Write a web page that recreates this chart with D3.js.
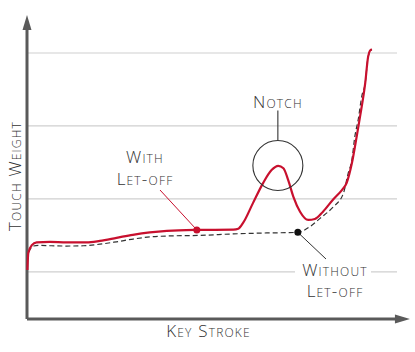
<!DOCTYPE html>
<html>
<head>
<meta charset="utf-8">
<script src="https://cdn.jsdelivr.net/npm/d3@7"></script>
<style>
    body { margin: 0; background: #fff; }
    text { font-family: "Open Sans", sans-serif; font-weight: 300; font-variant: small-caps; fill: #333; font-size: 17px; letter-spacing: 1.2px; }
</style>
</head>
<body>
<div id="container"></div>
<script>
const WIDTH = 415;
const HEIGHT = 352;
const AXIS_LEFT = 27;
const AXIS_BOTTOM = 319;

// key stroke (0-100) vs touch weight (0-100)
var WITH_X = [0.1, 0.35, 1.3, 2.6, 6.2, 10.7, 16.1, 19.7, 24.2, 28.6, 33.2, 37.8, 45.9, 55.8, 57.1,
    58.4, 61.1, 63.8, 66.1, 67.9, 69.3, 70.6, 72.0, 73.8, 76.0, 77.8, 80.0, 82.8, 85.1, 86.4,
    87.8, 89.1, 90.0, 91.4, 92.2, 92.7, 93.2];
var WITH_Y = [16.1, 21.7, 24.3, 25.2, 25.4, 25.2, 25.2, 25.7, 26.7, 27.7, 28.5, 29.0, 29.3, 29.4, 29.7,
    31.6, 38.2, 44.7, 49.0, 50.4, 49.6, 45.7, 40.2, 35.3, 32.6, 32.9, 35.3, 39.4, 42.4, 44.8,
    51.2, 60.0, 66.5, 77.5, 86.3, 88.3, 88.7];
var WITHOUT_X = [0.4, 1.7, 3.5, 6.2, 10.7, 15.2, 19.7, 24.2, 28.7, 33.2, 37.8, 46.8, 55.8, 64.8, 73.2,
    76.5, 79.2, 82.8, 85.5, 86.8, 87.8, 88.6, 89.5, 90.5, 91.4, 92.2, 93.2];
var WITHOUT_Y = [22.0, 24.0, 24.2, 24.1, 24.0, 24.1, 24.6, 25.4, 26.3, 27.0, 27.3, 27.5, 28.0, 28.3, 28.5,
    30.4, 33.1, 36.9, 41.3, 47.9, 52.3, 60.0, 65.5, 73.4, 77.5, 86.3, 88.7];
var GRID_VALUES = [15.5, 39.5, 63.5, 87.5];

var SVG;

var XScale = d3.scaleLinear().domain([0, 100]).range([AXIS_LEFT, 397]);
var YScale = d3.scaleLinear().domain([0, 100]).range([AXIS_BOTTOM, 15]);

var toPoints = function (xs, ys) {
    return xs.map(function (x, i) { return {x: x, y: ys[i]}; });
};

var line = d3.line()
    .x(function (d) { return XScale(d.x); })
    .y(function (d) { return YScale(d.y); })
    .curve(d3.curveMonotoneX);

var drawGrid = function (svg) {
    svg.append("g").selectAll("line").data(GRID_VALUES)
        .enter().append("line")
        .attr("x1", XScale(0)).attr("x2", XScale(100))
        .attr("y1", function (d) { return YScale(d); })
        .attr("y2", function (d) { return YScale(d); })
        .attr("stroke", "#cfcfcf")
        .attr("stroke-width", 1.2);
};

var drawAxes = function (svg) {
    var g = svg.append("g").attr("fill", "#5a5a5a").attr("stroke", "#5a5a5a");
    var tipY = YScale(100), tipX = XScale(103.5);
    g.append("path")
        .attr("d", "M" + AXIS_LEFT + "," + AXIS_BOTTOM + "V" + (tipY + 10) + "M" + AXIS_LEFT + "," + AXIS_BOTTOM + "H" + (tipX - 10))
        .attr("fill", "none")
        .attr("stroke-width", 3);
    g.append("path")
        .attr("d", "M" + AXIS_LEFT + "," + tipY + "L" + (AXIS_LEFT - 4.5) + "," + (tipY + 15) + "L" + (AXIS_LEFT + 4.5) + "," + (tipY + 15) + "Z")
        .attr("stroke", "none");
    g.append("path")
        .attr("d", "M" + tipX + "," + AXIS_BOTTOM + "L" + (tipX - 15) + "," + (AXIS_BOTTOM - 4.5) + "L" + (tipX - 15) + "," + (AXIS_BOTTOM + 4.5) + "Z")
        .attr("stroke", "none");
};

var drawCurves = function (svg) {
    svg.append("path")
        .datum(toPoints(WITHOUT_X, WITHOUT_Y))
        .attr("d", line)
        .attr("fill", "none")
        .attr("stroke", "#333")
        .attr("stroke-width", 1.2)
        .attr("stroke-dasharray", "5,3");
    svg.append("path")
        .datum(toPoints(WITH_X, WITH_Y))
        .attr("d", line)
        .attr("fill", "none")
        .attr("stroke", "#c8102e")
        .attr("stroke-width", 2.2);
};

// two-line label as one text element
var twoLines = function (g, x, y, gap, first, second) {
    var t = g.append("text").attr("text-anchor", "middle");
    t.append("tspan").attr("x", x).attr("y", y).text(first);
    t.append("tspan").attr("x", x).attr("dy", gap).text(second);
};

var drawNotes = function (svg) {
    var g = svg.append("g");
    // notch
    var cx = XScale(67.8), cy = YScale(50.5);
    g.append("circle").attr("cx", cx).attr("cy", cy).attr("r", 25)
        .attr("fill", "none").attr("stroke", "#333").attr("stroke-width", 1.1);
    g.append("line").attr("x1", cx).attr("x2", cx).attr("y1", cy - 25).attr("y2", cy - 55)
        .attr("stroke", "#333").attr("stroke-width", 1.1);
    g.append("text").attr("x", cx).attr("y", 108).attr("text-anchor", "middle").text("Notch");

    // with let-off
    var rx = XScale(WITH_X[12]), ry = YScale(WITH_Y[12]);
    g.append("line").attr("x1", 160).attr("y1", 190).attr("x2", rx).attr("y2", ry)
        .attr("stroke", "#c8102e").attr("stroke-width", 1);
    g.append("circle").attr("cx", rx).attr("cy", ry).attr("r", 3.5).attr("fill", "#c8102e");
    twoLines(g, 145, 163, 22, "With", "Let-off");

    // without let-off
    var bx = XScale(WITHOUT_X[14]), by = YScale(WITHOUT_Y[14]);
    g.append("line").attr("x1", bx).attr("y1", by).attr("x2", 326).attr("y2", 259)
        .attr("stroke", "#333").attr("stroke-width", 1);
    g.append("circle").attr("cx", bx).attr("cy", by).attr("r", 3.5).attr("fill", "#111");
    g.append("rect").attr("x", 295).attr("y", 262).attr("width", 76).attr("height", 40).attr("fill", "#fff");
    twoLines(g, 335, 275.5, 21.5, "Without", "Let-off");

    // axis titles
    g.append("text").attr("transform", "translate(21,176) rotate(-90)")
        .attr("text-anchor", "middle").text("Touch Weight");
    g.append("text").attr("x", 208.5).attr("y", 337).attr("text-anchor", "middle").text("Key Stroke");
};

var generateChart = function () {
    SVG = d3.select("#container").append("svg")
        .attr("width", WIDTH)
        .attr("height", HEIGHT);
    drawGrid(SVG);
    drawAxes(SVG);
    drawCurves(SVG);
    drawNotes(SVG);
};

window.onload = generateChart;
</script>
</body>
</html>
